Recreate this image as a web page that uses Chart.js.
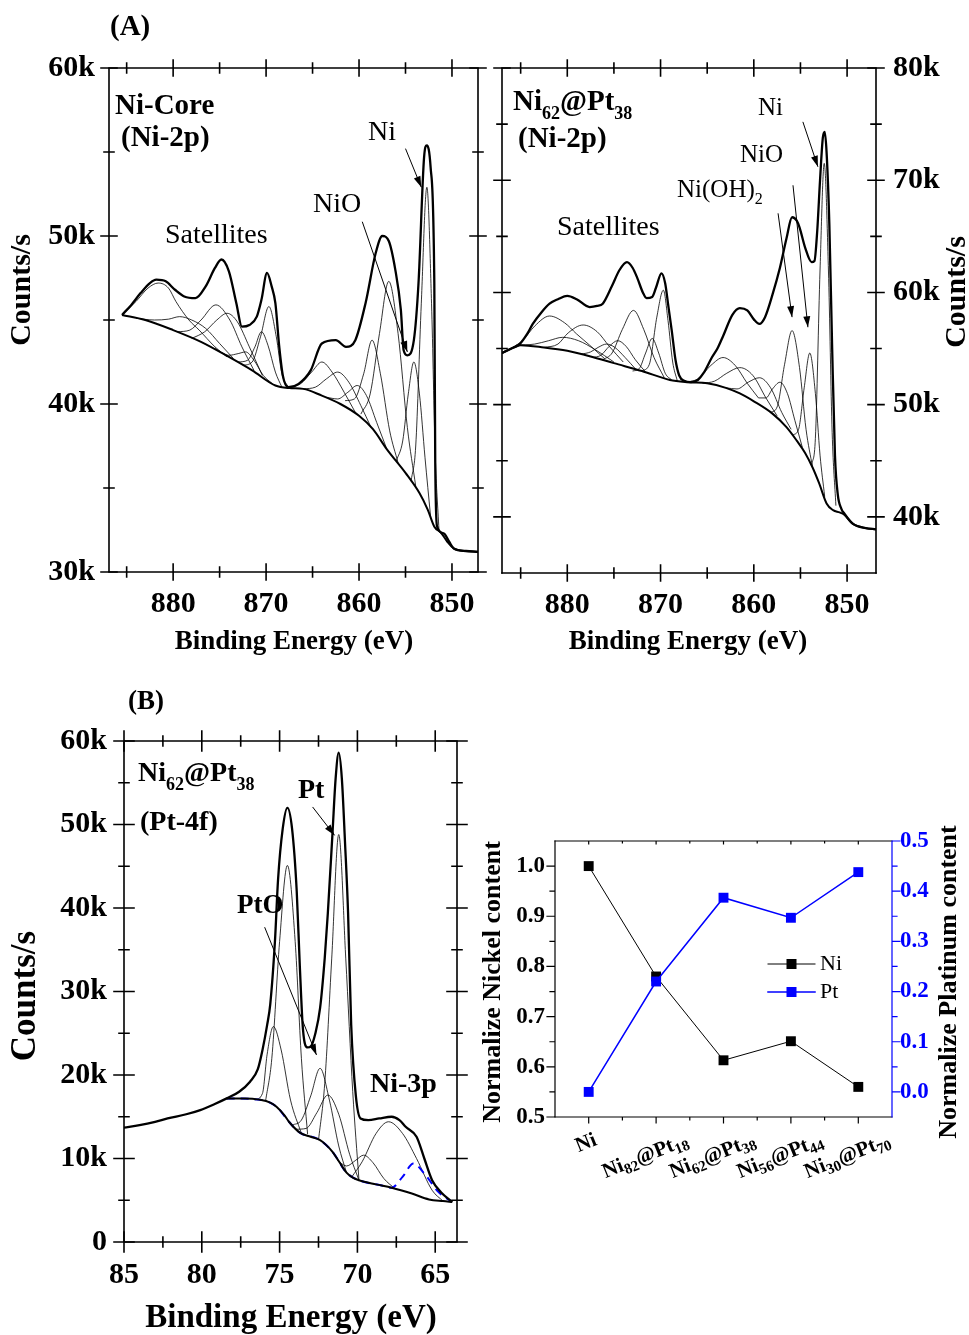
<!DOCTYPE html>
<html>
<head>
<meta charset="utf-8">
<script src="https://cdn.jsdelivr.net/npm/chart.js@4.4.1/dist/chart.umd.min.js"></script>
<style>
  body { margin: 0; background: #fff; }
  #wrap { position: relative; width: 969px; height: 1335px; }
  canvas { position: absolute; }
</style>
</head>
<body>
<div id="wrap">
  <canvas id="coreChart" width="490" height="670" style="left:0;top:0"></canvas>
  <canvas id="shellChart" width="479" height="670" style="left:490px;top:0"></canvas>
  <canvas id="ptChart" width="470" height="655" style="left:0;top:680px"></canvas>
  <canvas id="ratioChart" width="499" height="420" style="left:470px;top:790px"></canvas>
</div>
<script>
// ---- data (energies in eV, counts in k counts/s) ----
const spectrumTicksX = [880, 870, 860, 850];
const spectrumMinorX = [885, 875, 865, 855];
const coreTicksY = [30, 40, 50, 60];
const coreMinorY = [35, 45, 55];
const shellTicksY = [40, 50, 60, 70, 80];
const shellMinorY = [45, 55, 65, 75];
const ptTicksX = [85, 80, 75, 70, 65];
const ptMinorX = [82.5, 77.5, 72.5, 67.5];
const ptTicksY = [0, 10, 20, 30, 40, 50, 60];
const ptMinorY = [5, 15, 25, 35, 45, 55];

// Ni-Core, Ni-2p
const coreEnvelope = [[885.5,45.3],[884.5,45.9],[883.5,46.6],[882.5,47.2],[881.8,47.4],[880.8,47.3],[879.8,46.8],[878.8,46.4],[877.6,46.3],[876.5,47.0],[875.5,48.1],[874.8,48.6],[874.0,47.9],[873.2,46.0],[872.6,44.6],[871.8,44.7],[871.0,45.2],[870.5,46.2],[869.9,47.8],[869.4,47.0],[869.0,46.0],[868.6,43.5],[868.2,41.7],[867.6,41.0],[866.5,41.2],[865.2,42.0],[864.0,43.6],[862.5,43.8],[861.4,43.4],[860.4,43.8],[859.3,46.0],[858.2,49.0],[857.5,50.0],[856.8,49.7],[856.1,48.0],[855.5,45.6],[855.2,43.2],[854.8,42.9],[854.1,43.8],[853.6,47.2],[853.0,54.7],[852.7,55.4],[852.3,54.1],[851.9,47.2],[851.8,36.5],[851.6,32.7],[850.9,32.3],[850.3,31.8],[849.8,31.4],[848.5,31.25],[847.2,31.2]];
const coreBackground = [[885.5,45.3],[883,45.0],[880,44.4],[877,43.7],[874,42.8],[871.5,42.0],[869,41.1],[867.5,40.95],[866,40.9],[864,40.5],[862,40.0],[860,39.3],[858.5,38.5],[857,37.3],[855,35.9],[853.5,34.7],[852.6,33.7],[851.9,32.7],[851.2,32.35],[850.5,31.8],[849.8,31.4],[848.5,31.25],[847.2,31.2]];
const coreComponents = [
  [[885.5,45.3],[884,46.1],[882.7,46.9],[881.6,47.2],[880.5,46.9],[879.7,46.1],[878.3,45.0],[877.2,44.4],[875.5,43.4],[874.2,42.8]],
  [[884,45.1],[882,45.0],[880.5,45.05],[879.3,45.2],[878,45.0],[876.5,44.5],[875,43.6],[873.5,42.7]],
  [[879.5,44.3],[878.2,44.4],[877.0,45.0],[875.4,45.9],[873.9,45.0],[872.6,43.4],[871.3,42.0]],
  [[878.0,43.9],[876.6,44.3],[875.3,45.0],[874.2,45.4],[873.1,44.9],[871.8,43.4],[870.4,41.7]],
  [[875.5,43.3],[874.0,42.9],[873.0,43.0],[872.2,43.1],[871.3,42.6],[870.3,41.7],[869.3,41.2]],
  [[873.0,42.5],[872.0,42.6],[871.2,43.4],[870.5,44.3],[869.8,43.5],[869.0,41.9],[868.3,41.0]],
  [[872.5,42.3],[871.5,42.5],[870.6,44.0],[869.7,45.8],[868.9,44.0],[868.3,41.8],[867.6,41.0]],
  [[867.5,41.0],[866.3,41.2],[865.1,41.9],[864.0,42.5],[862.9,41.9],[861.6,40.7],[860.4,39.5]],
  [[866.0,40.9],[864.7,41.0],[863.5,41.5],[862.3,41.9],[861.1,41.3],[859.8,39.9],[858.7,38.6]],
  [[863.5,40.4],[862.3,40.3],[861.2,40.7],[860.2,41.1],[859.2,40.5],[858.1,38.9],[857.0,37.3]],
  [[861.5,40.2],[860.5,40.3],[859.5,41.8],[858.6,43.8],[857.7,41.8],[856.7,38.4],[855.8,36.5]],
  [[859.8,39.4],[858.8,40.6],[857.8,44.2],[856.8,47.3],[855.8,44.2],[854.8,38.6],[853.9,35.1]],
  [[856.0,36.6],[855.3,37.8],[854.7,40.6],[854.1,42.5],[853.5,40.6],[852.9,36.8],[852.3,33.3]],
  [[854.4,35.4],[853.9,37.5],[853.3,46.0],[852.7,52.9],[852.2,46.0],[851.8,37.0],[851.4,32.5]]
];

// Ni62@Pt38, Ni-2p
const shellEnvelope = [[887.0,54.6],[886.0,55.0],[885.1,55.4],[884.3,56.3],[883.7,57.2],[882.8,58.2],[881.9,59.0],[881.0,59.4],[880.0,59.7],[879.0,59.4],[877.6,58.7],[876.8,58.8],[876.2,59.0],[875.2,60.6],[874.4,62.0],[873.6,62.7],[873.0,62.2],[872.5,61.3],[871.9,60.0],[871.5,59.5],[870.9,59.6],[870.5,60.4],[869.9,61.7],[869.5,60.8],[869.2,59.0],[868.8,56.6],[868.4,54.0],[868.0,52.6],[867.4,52.1],[866.8,52.0],[866.0,52.2],[865.4,52.8],[864.5,54.2],[863.9,55.0],[863.3,56.1],[862.3,58.0],[861.5,58.6],[860.7,58.4],[860.0,57.6],[859.4,57.2],[858.8,57.8],[858.0,59.8],[857.2,62.2],[856.5,64.8],[855.9,66.7],[855.4,66.4],[855.1,65.8],[854.5,64.0],[853.8,62.7],[853.5,62.8],[853.2,65.5],[852.9,70.0],[852.6,73.8],[852.4,74.3],[852.2,72.5],[851.9,66.0],[851.6,55.0],[851.3,45.5],[851.0,42.0],[850.6,40.7],[850.3,40.3],[849.4,39.4],[848,39.0],[846.9,38.9]];
const shellBackground = [[887,54.6],[886,55.0],[885,55.3],[882.5,55.1],[880,54.8],[877.5,54.3],[875,53.7],[872,53.0],[869,52.2],[867,52.0],[865,51.9],[863,51.5],[861.5,51.0],[860,50.3],[858,49.2],[856.5,48.0],[855.4,46.8],[854.5,45.7],[853.7,44.4],[853,43.0],[852.2,41.2],[851.5,40.6],[850.8,40.4],[850.3,40.2],[849.4,39.4],[848,39.0],[846.9,38.9]];
const shellComponents = [
  [[886,55.0],[884.7,55.8],[883.5,57.0],[881.9,57.9],[880.3,57.3],[879.0,56.3],[877.6,55.3],[876.0,54.1]],
  [[882.5,55.1],[881.0,55.4],[879.9,56.4],[878.3,57.1],[876.8,56.5],[875.5,55.2],[874.0,53.8]],
  [[885.5,55.3],[883.5,55.4],[882,55.7],[880.5,56.0],[878.8,55.7],[877,54.9],[875,53.8]],
  [[876.2,54.0],[875.2,54.6],[874.1,56.7],[872.9,58.4],[871.8,56.7],[870.7,54.2],[869.6,52.4]],
  [[878.5,54.5],[877.5,54.7],[876.7,55.1],[875.8,55.4],[874.9,55.1],[873.8,54.2],[872.6,53.1]],
  [[877.3,54.2],[876.4,54.4],[875.5,55.2],[874.6,55.7],[873.7,55.2],[872.7,54.0],[871.6,52.9]],
  [[873.0,53.0],[872.3,53.2],[871.6,54.6],[870.9,55.9],[870.2,54.6],[869.5,52.8],[868.8,52.2]],
  [[872.0,53.0],[871.2,53.6],[870.4,57.8],[869.7,60.2],[869.2,57.5],[868.7,53.8],[868.2,52.1]],
  [[867.2,52.0],[866.0,52.3],[864.6,53.5],[863.3,54.2],[862.0,53.5],[860.7,51.9],[859.5,50.6]],
  [[865.5,51.9],[864.2,52.1],[862.9,52.8],[861.5,53.3],[860.1,52.6],[858.7,50.6],[857.5,49.0]],
  [[863.0,51.5],[861.8,51.4],[860.6,52.0],[859.4,52.4],[858.2,51.5],[857.0,49.3],[856.0,47.8]],
  [[859.5,50.6],[858.7,50.6],[858.0,51.4],[857.2,52.0],[856.4,51.0],[855.6,48.6],[854.8,46.2]],
  [[858.2,49.3],[857.5,49.8],[856.7,53.6],[855.9,56.6],[855.1,53.3],[854.4,47.8],[853.7,44.4]],
  [[855.8,47.3],[855.2,47.8],[854.6,51.5],[854.0,54.6],[853.4,51.0],[852.9,45.5],[852.4,41.8]],
  [[853.8,44.6],[853.4,47.0],[852.9,62.0],[852.45,71.5],[852.0,62.0],[851.6,47.5],[851.2,41.0]]
];

// Ni62@Pt38, Pt-4f
const ptEnvelope = [[85,13.7],[84,14.0],[83,14.4],[82.2,14.8],[81,15.3],[80.1,15.8],[79.2,16.5],[78.4,17.2],[77.6,18.0],[76.9,19.2],[76.4,20.7],[76.1,23.0],[75.8,26.0],[75.6,28.5],[75.3,36.0],[75.1,43.4],[74.8,49.5],[74.5,52.0],[74.2,49.5],[73.9,42.0],[73.7,33.0],[73.5,25.5],[73.2,23.3],[73.0,23.4],[72.7,25.0],[72.4,28.0],[72.1,34.0],[71.9,39.4],[71.6,49.0],[71.4,55.5],[71.2,58.6],[71.0,55.5],[70.8,48.0],[70.6,39.4],[70.4,26.0],[70.1,17.5],[69.8,14.8],[69.3,14.6],[68.6,14.8],[67.8,15.0],[67.3,14.6],[66.9,13.8],[66.2,12.6],[65.7,10.0],[65.2,7.4],[64.6,5.9],[63.9,4.8]];
const ptBackground = [[78.4,17.2],[77.2,17.2],[76.3,17.05],[75.6,16.7],[75.2,16.2],[74.7,15.2],[74.4,14.4],[73.7,13.1],[73.0,12.6],[72.4,12.2],[72.0,11.6],[71.6,10.8],[71.1,9.4],[70.7,8.3],[70.3,7.7],[69.9,7.4],[68.8,6.9],[67.8,6.5],[66.5,5.8],[65.4,5.1],[64.5,4.9],[63.9,4.8]];
const ptNi3pDashed = [[78.4,17.2],[76.3,17.05],[75.2,16.2],[74.4,14.4],[73.7,13.1],[72.4,12.2],[71.6,10.8],[70.7,8.3],[69.9,7.4],[68.5,6.8],[67.8,6.5],[67.1,7.8],[66.4,9.4],[65.7,8.2],[64.8,6.0],[64.0,4.9]];
const ptComponents = [
  [[75.9,16.9],[75.5,22.0],[75.0,36.0],[74.5,45.1],[74.0,36.0],[73.6,22.0],[73.2,12.9]],
  [[72.5,12.2],[72.1,19.0],[71.65,34.0],[71.2,48.8],[70.75,34.0],[70.3,18.0],[69.9,7.4]],
  [[76.6,17.0],[76.1,17.8],[75.8,22.5],[75.4,25.8],[74.9,23.0],[74.3,17.0],[73.6,13.0]],
  [[74.2,14.0],[73.6,14.6],[73.0,17.5],[72.4,20.8],[71.8,17.0],[71.2,11.5],[70.7,8.3]],
  [[74.0,13.5],[73.3,13.6],[72.6,15.5],[71.9,17.6],[71.2,15.3],[70.5,10.5],[69.9,7.4]],
  [[71.3,9.8],[70.7,9.1],[70.1,9.8],[69.6,10.4],[69.0,9.5],[68.3,7.6],[67.6,6.4]],
  [[70.4,7.7],[69.7,9.6],[68.8,13.0],[68.0,14.4],[67.1,13.0],[66.2,10.0],[65.2,6.2],[64.5,4.9]]
];

// composition plot
const compositions = ['Ni', 'Ni82@Pt18', 'Ni62@Pt38', 'Ni56@Pt44', 'Ni30@Pt70'];
const nickelContent = [1.0, 0.78, 0.613, 0.651, 0.56];
const platinumContent = [0.0, 0.22, 0.387, 0.347, 0.438];
const nickelTicks = [0.5, 0.6, 0.7, 0.8, 0.9, 1.0];
const nickelMinor = [0.55, 0.65, 0.75, 0.85, 0.95];
const platinumTicks = [0, 0.1, 0.2, 0.3, 0.4, 0.5];
const platinumMinor = [0.05, 0.15, 0.25, 0.35, 0.45];

// ---- helpers ----
const SERIF = '"Liberation Serif", "Times New Roman", serif';
const bold = size => ({family: SERIF, size, weight: 'bold'});
const BLUE = '#0000ff';

function line(data, width, color = '#000', dash = []) {
  return {
    data: data.map(([x, y]) => ({x, y})),
    showLine: true, pointRadius: 0, fill: false,
    borderColor: color, borderWidth: width, borderDash: dash,
    cubicInterpolationMode: 'monotone'
  };
}

function drawEdge(chart, e) {
  const {ctx, chartArea: a} = chart;
  const s = chart.scales[e.scale];
  const vert = e.side === 'left' || e.side === 'right';
  const pos = a[e.side];
  const sign = (e.side === 'left' || e.side === 'top') ? 1 : -1;
  ctx.strokeStyle = e.color || '#000';
  ctx.lineWidth = e.width || 1.6;
  ctx.lineCap = 'square';
  ctx.beginPath();
  if (vert) { ctx.moveTo(pos, a.top); ctx.lineTo(pos, a.bottom); }
  else { ctx.moveTo(a.left, pos); ctx.lineTo(a.right, pos); }
  const mark = (vals, [inL, outL]) => vals.forEach(v => {
    const p = s.getPixelForValue(v);
    const p1 = pos - sign * outL, p2 = pos + sign * inL;
    if (vert) { ctx.moveTo(p1, p); ctx.lineTo(p2, p); }
    else { ctx.moveTo(p, p1); ctx.lineTo(p, p2); }
  });
  mark(e.major || [], e.majLen || [8, 8]);
  mark(e.minor || [], e.minLen || [5, 5]);
  ctx.stroke();
}

function drawArrow(chart, ar) {
  const {ctx, scales} = chart;
  const x1 = scales.x.getPixelForValue(ar.from[0]), y1 = scales.y.getPixelForValue(ar.from[1]);
  const x2 = scales.x.getPixelForValue(ar.to[0]), y2 = scales.y.getPixelForValue(ar.to[1]);
  ctx.strokeStyle = '#000';
  ctx.fillStyle = '#000';
  ctx.lineWidth = 1;
  ctx.lineCap = 'butt';
  ctx.beginPath(); ctx.moveTo(x1, y1); ctx.lineTo(x2, y2); ctx.stroke();
  const ang = Math.atan2(y2 - y1, x2 - x1), c = Math.cos(ang), s = Math.sin(ang);
  ctx.beginPath();
  ctx.moveTo(x2, y2);
  ctx.lineTo(x2 - 11 * c + 3.5 * s, y2 - 11 * s - 3.5 * c);
  ctx.lineTo(x2 - 11 * c - 3.5 * s, y2 - 11 * s + 3.5 * c);
  ctx.closePath();
  ctx.fill();
}

// text with optional numeric subscripts (Ni62@Pt38 style)
function textWidth(ctx, t) {
  const parts = t.sub ? t.text.split(/(\d+)/) : [t.text];
  let w = 0;
  parts.forEach((p, i) => {
    ctx.font = `${t.weight || 'bold'} ${i % 2 ? t.subSize : t.size}px ${SERIF}`;
    w += ctx.measureText(p).width;
  });
  return w;
}

function drawText(ctx, t) {
  ctx.save();
  ctx.translate(t.x, t.y);
  if (t.rotate) ctx.rotate(t.rotate);
  ctx.fillStyle = t.color || '#000';
  ctx.textBaseline = t.baseline || 'alphabetic';
  ctx.textAlign = 'left';
  const parts = t.sub ? t.text.split(/(\d+)/) : [t.text];
  const w = textWidth(ctx, t);
  let cx = t.align === 'center' ? -w / 2 : t.align === 'right' ? -w : 0;
  parts.forEach((p, i) => {
    ctx.font = `${t.weight || 'bold'} ${i % 2 ? t.subSize : t.size}px ${SERIF}`;
    ctx.fillText(p, cx, i % 2 ? (t.subDy || 7) : 0);
    cx += ctx.measureText(p).width;
  });
  ctx.restore();
}

const decor = {
  id: 'decor',
  afterDraw(chart, args, o) {
    const ctx = chart.ctx;
    ctx.save();
    (o.edges || []).forEach(e => drawEdge(chart, e));
    (o.arrows || []).forEach(ar => drawArrow(chart, ar));
    (o.texts || []).forEach(t => drawText(ctx, t));
    if (o.categories) {
      const c = o.categories, sx = chart.scales.x;
      chart.data.labels.forEach((text, i) => {
        const t = {text, sub: true, size: c.size, subSize: c.subSize, subDy: 6,
          align: 'center', baseline: 'middle', rotate: -c.angle};
        const w = textWidth(ctx, t);
        t.x = sx.getPixelForValue(i) - w * 0.12;
        t.y = c.top + (w * Math.sin(c.angle) + c.height * Math.cos(c.angle)) / 2;
        drawText(ctx, t);
      });
    }
    if (o.legend) {
      const L = o.legend;
      chart.data.datasets.forEach((ds, i) => {
        const y = L.y + i * L.gap;
        ctx.strokeStyle = ds.borderColor;
        ctx.lineWidth = ds.borderWidth;
        ctx.beginPath(); ctx.moveTo(L.x, y); ctx.lineTo(L.x + L.len, y); ctx.stroke();
        ctx.fillStyle = ds.pointBackgroundColor;
        ctx.fillRect(L.x + L.len / 2 - 5, y - 5, 10, 10);
        drawText(ctx, {text: ds.label, x: L.x + L.len + 5, y, size: L.size, weight: 'normal', baseline: 'middle'});
      });
    }
    ctx.restore();
  }
};

function frame(ticksX, minorX, ticksY, minorY, maj, min) {
  return [
    {side: 'left', scale: 'y', major: ticksY, minor: minorY, majLen: maj, minLen: min},
    {side: 'right', scale: 'y', major: ticksY, minor: minorY, majLen: maj, minLen: min},
    {side: 'top', scale: 'x', major: ticksX, minor: minorX, majLen: maj, minLen: min},
    {side: 'bottom', scale: 'x', major: ticksX, minor: minorX, majLen: maj, minLen: min}
  ];
}

function spectrum(id, o) {
  const datasets = [
    line(o.envelope, 2.3),
    line(o.background, 2),
    ...(o.extra || []),
    ...o.components.map(c => line(c, 0.8))
  ];
  return new Chart(document.getElementById(id), {
    type: 'scatter',
    data: {datasets},
    options: {
      responsive: false, animation: false, events: [],
      layout: {padding: o.padding},
      plugins: {legend: {display: false}, tooltip: {enabled: false}, decor: o.decor},
      scales: {
        x: {
          type: 'linear', reverse: true, min: o.x[0], max: o.x[1],
          afterBuildTicks: s => { s.ticks = o.xTicks.map(value => ({value})); },
          afterFit: s => { s.height = o.xHeight; },
          grid: {display: false, drawTicks: false}, border: {display: false},
          ticks: {font: bold(30), color: '#000', padding: o.xPad, maxRotation: 0, autoSkip: false}
        },
        y: {
          position: o.yPos || 'left', min: o.y[0], max: o.y[1],
          afterBuildTicks: s => { s.ticks = o.yTicks.map(value => ({value})); },
          afterFit: s => { s.width = o.yWidth; },
          grid: {display: false, drawTicks: false}, border: {display: false},
          ticks: {font: bold(30), color: '#000', padding: o.yPad, autoSkip: false,
            callback: v => v === 0 ? '0' : v + 'k'}
        }
      }
    },
    plugins: [decor]
  });
}

// ---- (A) left: Ni-Core ----
spectrum('coreChart', {
  envelope: coreEnvelope, background: coreBackground, components: coreComponents,
  x: [847.2, 886.9], y: [30, 60], xTicks: spectrumTicksX, yTicks: coreTicksY,
  padding: {top: 68, right: 12, left: 0, bottom: 0}, xHeight: 98, yWidth: 109, xPad: 14, yPad: 14,
  decor: {
    edges: frame(spectrumTicksX, spectrumMinorX, coreTicksY, coreMinorY, [8, 8], [5, 5]),
    arrows: [{from: [855.0, 55.2], to: [853.3, 52.9]}, {from: [859.65, 50.85], to: [854.8, 43.1]}],
    texts: [
      {text: '(A)', x: 110, y: 35, size: 29},
      {text: 'Ni-Core', x: 115, y: 114, size: 29},
      {text: '(Ni-2p)', x: 121, y: 146, size: 29},
      {text: 'Satellites', x: 165, y: 243, size: 28, weight: 'normal'},
      {text: 'NiO', x: 313, y: 212, size: 28, weight: 'normal'},
      {text: 'Ni', x: 368, y: 140, size: 28, weight: 'normal'},
      {text: 'Counts/s', x: 22, y: 290, size: 30, align: 'center', baseline: 'middle', rotate: -Math.PI / 2},
      {text: 'Binding Energy (eV)', x: 294, y: 642, size: 27, align: 'center', baseline: 'middle'}
    ]
  }
});

// ---- (A) right: Ni62@Pt38 ----
spectrum('shellChart', {
  envelope: shellEnvelope, background: shellBackground, components: shellComponents,
  x: [846.9, 887], y: [35, 80], xTicks: spectrumTicksX, yTicks: shellTicksY, yPos: 'right',
  padding: {top: 68, right: 0, left: 12, bottom: 0}, xHeight: 97, yWidth: 93, xPad: 14, yPad: 17,
  decor: {
    edges: frame(spectrumTicksX, spectrumMinorX, shellTicksY, shellMinorY, [8, 8], [5, 5]),
    arrows: [
      {from: [854.74, 75.2], to: [853.13, 71.2]},
      {from: [855.8, 69.55], to: [854.2, 56.9]},
      {from: [857.4, 67.05], to: [855.9, 57.8]}
    ],
    texts: [
      {text: 'Ni62@Pt38', sub: true, x: 23, y: 110, size: 29, subSize: 18, subDy: 9},
      {text: '(Ni-2p)', x: 28, y: 147, size: 29},
      {text: 'Satellites', x: 67, y: 235, size: 28, weight: 'normal'},
      {text: 'Ni', x: 268, y: 115, size: 25, weight: 'normal'},
      {text: 'NiO', x: 250, y: 162, size: 25, weight: 'normal'},
      {text: 'Ni(OH)2', sub: true, x: 187, y: 197, size: 25, subSize: 16, subDy: 7, weight: 'normal'},
      {text: 'Counts/s', x: 467, y: 292, size: 30, align: 'center', baseline: 'middle', rotate: -Math.PI / 2},
      {text: 'Binding Energy (eV)', x: 198, y: 642, size: 27, align: 'center', baseline: 'middle'}
    ]
  }
});

// ---- (B) Pt-4f ----
spectrum('ptChart', {
  envelope: ptEnvelope, background: ptBackground, components: ptComponents,
  extra: [line(ptNi3pDashed, 2, BLUE, [8, 6])],
  x: [63.6, 85], y: [0, 60], xTicks: ptTicksX, yTicks: ptTicksY,
  padding: {top: 61, right: 13, left: 0, bottom: 0}, xHeight: 93, yWidth: 124, xPad: 15, yPad: 17,
  decor: {
    edges: frame(ptTicksX, ptMinorX, ptTicksY, ptMinorY, [10, 10], [5, 5]),
    arrows: [{from: [72.88, 52.1], to: [71.47, 48.7]}, {from: [75.96, 37.7], to: [72.63, 22.4]}],
    texts: [
      {text: '(B)', x: 128, y: 29, size: 27},
      {text: 'Ni62@Pt38', sub: true, x: 138, y: 101, size: 28, subSize: 18, subDy: 9},
      {text: '(Pt-4f)', x: 140, y: 150, size: 28},
      {text: 'Pt', x: 298, y: 118, size: 28},
      {text: 'PtO', x: 237, y: 233, size: 27},
      {text: 'Ni-3p', x: 370, y: 412, size: 28},
      {text: 'Counts/s', x: 26, y: 316, size: 35, align: 'center', baseline: 'middle', rotate: -Math.PI / 2},
      {text: 'Binding Energy (eV)', x: 291, y: 638, size: 33, align: 'center', baseline: 'middle'}
    ]
  }
});

// ---- composition plot ----
const catIdx = compositions.map((_, i) => i);
const catMid = compositions.slice(1).map((_, i) => i + 0.5);
new Chart(document.getElementById('ratioChart'), {
  type: 'line',
  data: {
    labels: compositions,
    datasets: [
      {label: 'Ni', data: nickelContent, yAxisID: 'y', order: 2,
        borderColor: '#000', backgroundColor: '#000', pointBackgroundColor: '#000', pointBorderColor: '#000',
        borderWidth: 1, pointStyle: 'rect', pointRadius: 7, pointBorderWidth: 0, tension: 0},
      {label: 'Pt', data: platinumContent, yAxisID: 'y1', order: 1,
        borderColor: BLUE, backgroundColor: BLUE, pointBackgroundColor: BLUE, pointBorderColor: BLUE,
        borderWidth: 1.5, pointStyle: 'rect', pointRadius: 7, pointBorderWidth: 0, tension: 0}
    ]
  },
  options: {
    responsive: false, animation: false, events: [],
    layout: {padding: {top: 51, left: 0, right: 0, bottom: 0}},
    plugins: {
      legend: {display: false}, tooltip: {enabled: false},
      decor: {
        edges: [
          {side: 'left', scale: 'y', major: nickelTicks, minor: nickelMinor, majLen: [0, 8], minLen: [0, 5], width: 1.2},
          {side: 'bottom', scale: 'x', major: catIdx, minor: catMid, majLen: [0, 6], minLen: [0, 3], width: 1.2},
          {side: 'top', scale: 'x', major: catIdx, minor: catMid, majLen: [3, 0], minLen: [2, 0], width: 1.2},
          {side: 'right', scale: 'y1', major: platinumTicks, minor: platinumMinor, majLen: [0, 8], minLen: [0, 5], width: 1.2, color: BLUE}
        ],
        categories: {top: 342, angle: 22 * Math.PI / 180, size: 21, subSize: 15, height: 16},
        legend: {x: 298, y: 174, gap: 28, len: 47, size: 22},
        texts: [
          {text: 'Normalize Nickel content', x: 23, y: 192, size: 26, align: 'center', baseline: 'middle', rotate: -Math.PI / 2},
          {text: 'Normalize Platinum content', x: 479, y: 192, size: 26, align: 'center', baseline: 'middle', rotate: -Math.PI / 2}
        ]
      }
    },
    scales: {
      x: {
        type: 'category', offset: true,
        grid: {display: false, drawTicks: false}, border: {display: false},
        ticks: {display: false},
        afterFit: s => { s.height = 93; }
      },
      y: {
        position: 'left', min: 0.5, max: 1.05,
        afterBuildTicks: s => { s.ticks = nickelTicks.map(value => ({value})); },
        afterFit: s => { s.width = 85; },
        grid: {display: false, drawTicks: false}, border: {display: false},
        ticks: {font: bold(23), color: '#000', padding: 10, callback: v => v.toFixed(1)}
      },
      y1: {
        position: 'right', min: -0.05, max: 0.5,
        afterBuildTicks: s => { s.ticks = platinumTicks.map(value => ({value})); },
        afterFit: s => { s.width = 77; },
        grid: {display: false, drawTicks: false}, border: {display: false},
        ticks: {font: bold(23), color: BLUE, padding: 8, callback: v => v.toFixed(1)}
      }
    }
  },
  plugins: [decor]
});
</script>
</body>
</html>
